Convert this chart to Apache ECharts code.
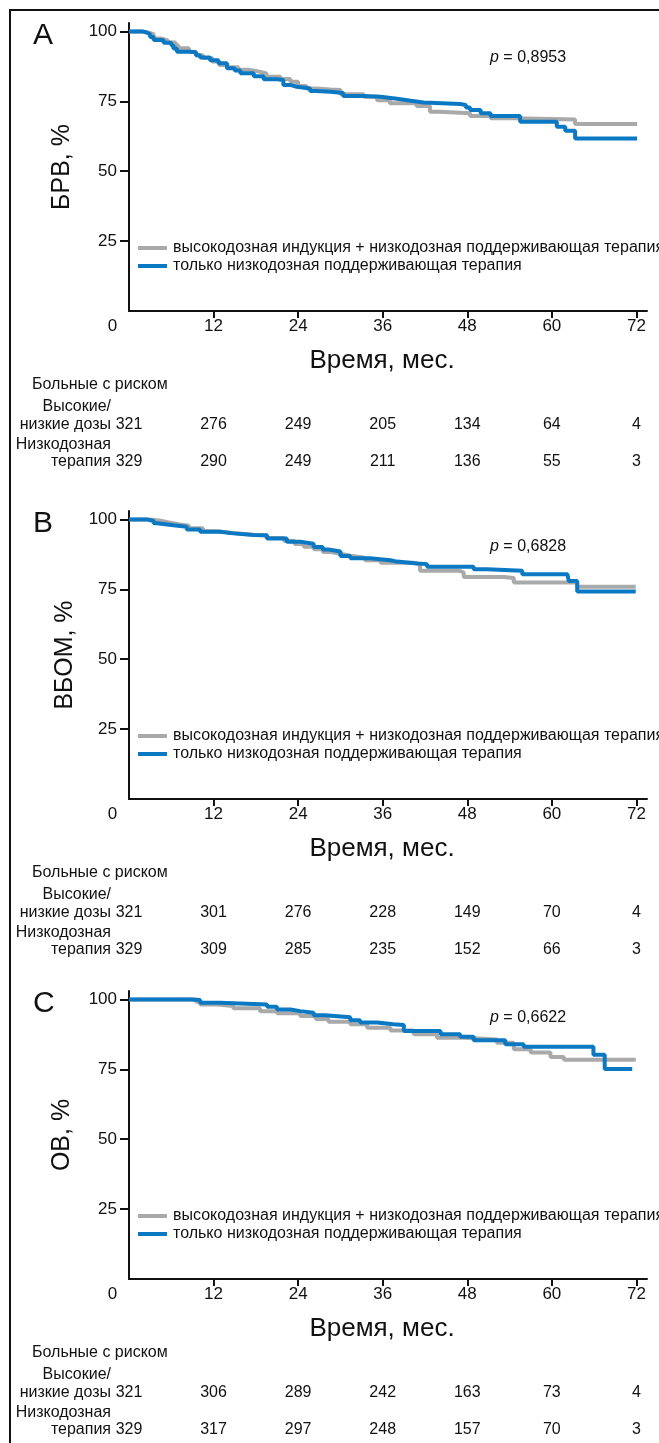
<!DOCTYPE html>
<html><head><meta charset="utf-8">
<script src="https://cdn.jsdelivr.net/npm/echarts@6/dist/echarts.min.js"></script>
<style>html,body{margin:0;padding:0;background:#fff}#c{width:659px;height:1443px}</style>
</head><body><div id="c"></div>
<script>
const FONT = "'Liberation Sans', Arial, Helvetica, sans-serif";
const seriesNames = ['высокодозная индукция + низкодозная поддерживающая терапия', 'только низкодозная поддерживающая терапия'];
const panelLetters = ['A', 'B', 'C'];
const yTitles = ['БРВ, %', 'ВБОМ, %', 'ОВ, %'];
const pValues = ['0,8953', '0,6828', '0,6622'];
const xTicks = [0, 12, 24, 36, 48, 60, 72];
const yTicks = [25, 50, 75, 100];
const xTitle = 'Время, мес.';
const riskTitle = 'Больные с риском';
const riskLabelsHigh = ['Высокие/', 'низкие дозы'];
const riskLabelsLow = ['Низкодозная', 'терапия'];

// numbers at risk (at xTicks)
const riskA_high = [321, 276, 249, 205, 134, 64, 4];
const riskA_low  = [329, 290, 249, 211, 136, 55, 3];
const riskB_high = [321, 301, 276, 228, 149, 70, 4];
const riskB_low  = [329, 309, 285, 235, 152, 66, 3];
const riskC_high = [321, 306, 289, 242, 163, 73, 4];
const riskC_low  = [329, 317, 297, 248, 157, 70, 3];

// Kaplan-Meier curves [month, %]
const curveA_gray = [[0,100],[2.0,99.5],[2.8,99],[3.5,97.5],[4.5,96.8],[5.5,96],[6.6,95],[7.0,94],[8.5,92.6],[9.5,91.5],[10.5,90.5],[11.8,89.2],[12.8,88.0],[14.0,87.2],[15.5,86.3],[17.0,85.6],[18.5,85.0],[19.5,83.8],[21.5,83],[22.9,82],[24.0,80.5],[25.2,79.6],[26.5,79.2],[28.6,79.0],[30,77.5],[33.3,76.6],[35.2,75.4],[37,74.3],[40.8,73.3],[42.7,71.3],[44.1,70.7],[48.4,69.7],[51.3,68.9],[54.6,68.5],[63.3,66.9],[72.1,66.9]];
const curveA_blue = [[0,100],[1.8,99.6],[2.5,99],[3.0,98],[3.5,96.9],[4.9,95.9],[6.0,95],[6.3,93.9],[6.8,92.7],[8.7,92.5],[9.5,91.5],[10.1,90.7],[11.5,89.7],[12.7,88.6],[13.9,86.8],[15.0,86],[15.8,85.0],[17.7,84.0],[19.1,82.9],[21.0,82.6],[21.9,80.8],[23.0,80.2],[23.8,79.6],[25.7,78.7],[26.5,78.4],[28.6,78.0],[30.4,76.9],[33.3,76.6],[35.7,75.9],[38.0,75.2],[40,74.6],[41.8,74.0],[47.0,73.7],[47.8,72.8],[48.4,71.9],[49.9,70.7],[51.3,69.7],[55.5,67.7],[60.7,65.9],[61.9,64.5],[63.3,61.7],[72.1,61.7]];
const curveB_gray = [[0,100],[3,99.6],[4.3,99],[5.5,98.3],[7,97.7],[8.5,96.8],[10.5,95.8],[12.5,95.2],[14.5,94.5],[17.5,94.2],[19.5,93.3],[22,92.3],[23.5,91.2],[24.8,90.2],[26.2,89.3],[27.5,88.3],[28.6,87.7],[30,87.0],[31.4,86.3],[33.5,85.4],[35.7,84.5],[40.4,84.0],[41.3,81.6],[46.9,81.0],[47.5,79.4],[53.2,79.0],[54.6,77.4],[63.6,75.9],[71.9,75.9]];
const curveB_blue = [[0,100],[2.5,99.4],[3.5,98.6],[4.0,97.9],[6.3,97.4],[8.2,96.4],[10.1,95.6],[12.9,95.0],[14.8,94.4],[17.7,94.3],[19.6,93.2],[22.4,92.0],[24.3,91.3],[26.2,90.1],[27.5,89.2],[28.3,88.5],[30,86.9],[31.4,86.1],[34.2,85.4],[37.1,84.9],[38.0,84.2],[40.9,84.0],[42.3,83.1],[48.9,82.2],[50.8,81.6],[55.8,80.4],[62.2,80.2],[62.4,78.0],[63.6,74.2],[71.9,74.2]];
const curveC_gray = [[0,100],[9.5,99.2],[10.1,98.2],[12.5,97.6],[14.8,96.8],[18.6,95.8],[21.0,95.0],[24.3,94.1],[26.5,93.0],[28.3,92.0],[31.4,91.1],[33.8,89.9],[37.1,88.9],[40.4,87.5],[43.7,86.3],[47.5,85.7],[52.2,84.5],[54.6,82.2],[57.0,81.0],[59.8,79.4],[61.7,78.4],[71.9,78.4]];
const curveC_blue = [[0,100],[8.7,99.8],[10.1,98.8],[12.9,98.2],[19.6,97.4],[21.0,96.4],[22.9,95.8],[24.3,95.2],[26.2,94.3],[27.8,93.6],[31.4,92.5],[32.8,91.7],[35.2,91.1],[37.5,90.8],[39.0,88.7],[44.2,87.5],[47.0,86.6],[48.9,85.4],[53.4,84.0],[56.0,83.1],[65.9,80.2],[67.5,75.1],[71.4,75.1]];

const panels = [
  {gray: curveA_gray, blue: curveA_blue, high: riskA_high, low: riskA_low},
  {gray: curveB_gray, blue: curveB_blue, high: riskB_high, low: riskB_low},
  {gray: curveC_gray, blue: curveC_blue, high: riskC_high, low: riskC_low}
];

// layout
const GRID_LEFT = 129, GRID_W = 518, GRID_H = 288;
const tops = [23, 511, 991];
const yNameGaps = [54, 45, 54];
const pOffsets = [35, 36, 27];
const GRAY = '#a9a9a9', BLUE = '#0a78c2', INK = '#111';
const SMALL = 16;

const option = {animation: false, backgroundColor: '#fff', grid: [], xAxis: [], yAxis: [], series: [], legend: [], graphic: []};

panels.forEach((p, i) => {
  const top = tops[i];
  const axisY = top + GRID_H;
  option.grid.push({left: GRID_LEFT, top: top, width: GRID_W, height: GRID_H, containLabel: false});
  const xBase = option.xAxis.length;
  option.xAxis.push({
    type: 'value', gridIndex: i, min: 0, max: 73.5, position: 'bottom',
    axisLine: {show: true, onZero: false, lineStyle: {color: INK, width: 2}},
    axisTick: {show: true, customValues: xTicks.slice(1), length: 7, lineStyle: {color: INK, width: 2}},
    axisLabel: {customValues: xTicks, margin: 7, fontSize: 17, fontFamily: FONT, color: INK,
      formatter: v => v === 0 ? '{z|0}' : String(v),
      rich: {z: {padding: [0, 33, 0, 0], fontSize: 17, fontFamily: FONT, color: INK}}},
    splitLine: {show: false},
    name: xTitle, nameLocation: 'middle', nameGap: 37,
    nameTextStyle: {fontSize: 26, fontFamily: FONT, color: INK, padding: [0, 12, 0, 0]}
  });
  [[p.high, 98], [p.low, 135]].forEach(([arr, off]) => {
    option.xAxis.push({
      type: 'value', gridIndex: i, min: 0, max: 73.5, position: 'bottom', offset: off,
      axisLine: {show: false}, axisTick: {show: false}, splitLine: {show: false},
      axisLabel: {customValues: xTicks, margin: 8, fontSize: SMALL, fontFamily: FONT, color: INK,
        formatter: v => String(arr[xTicks.indexOf(v)])}
    });
  });
  option.yAxis.push({
    type: 'value', gridIndex: i, min: 0, max: 103,
    axisLine: {show: true, lineStyle: {color: INK, width: 2}},
    axisTick: {show: true, customValues: yTicks, length: 9, lineStyle: {color: INK, width: 2}},
    axisLabel: {customValues: yTicks, margin: 12, fontSize: 17, fontFamily: FONT, color: INK},
    splitLine: {show: false},
    name: yTitles[i], nameLocation: 'middle', nameGap: yNameGaps[i],
    nameTextStyle: {fontSize: 25, fontFamily: FONT, color: INK}
  });
  option.series.push({
    name: seriesNames[0], type: 'line', xAxisIndex: xBase, yAxisIndex: i, step: 'end',
    symbol: 'none', data: p.gray, lineStyle: {color: GRAY, width: 4}, itemStyle: {color: GRAY}, z: 2
  });
  option.series.push({
    name: seriesNames[1], type: 'line', xAxisIndex: xBase, yAxisIndex: i, step: 'end',
    symbol: 'none', data: p.blue, lineStyle: {color: BLUE, width: 4}, itemStyle: {color: BLUE}, z: 3
  });
  option.legend.push({
    orient: 'vertical', left: 138, top: top + 217, padding: 0, itemGap: 2,
    itemWidth: 29, itemHeight: 4, icon: 'rect', selectedMode: false,
    data: seriesNames, textStyle: {fontSize: SMALL, fontFamily: FONT, color: INK, padding: [0, 0, 0, 1]}
  });
  const txt = (x, y, text, size, align, extra) => ({
    type: 'text', x: x, y: y, silent: true,
    style: Object.assign({text: text, fontSize: size, fontFamily: FONT, fill: INK, align: align || 'left', verticalAlign: 'middle'}, extra || {})
  });
  option.graphic.push(txt(33, top + 13, panelLetters[i], 30));
  option.graphic.push(txt(490, top + pOffsets[i], '{i|p} = ' + pValues[i], 16, 'left',
    {rich: {i: {fontStyle: 'italic', fontSize: 16, fontFamily: FONT, fill: INK}}}));
  option.graphic.push(txt(32, axisY + 74, riskTitle, SMALL));
  option.graphic.push(txt(111, axisY + 96, riskLabelsHigh[0], SMALL, 'right'));
  option.graphic.push(txt(111, axisY + 114, riskLabelsHigh[1], SMALL, 'right'));
  option.graphic.push(txt(111, axisY + 134, riskLabelsLow[0], SMALL, 'right'));
  option.graphic.push(txt(111, axisY + 151, riskLabelsLow[1], SMALL, 'right'));
});

option.graphic.push({type: 'line', silent: true, shape: {x1: 10, y1: 9, x2: 10, y2: 1443}, style: {stroke: INK, lineWidth: 2}});
option.graphic.push({type: 'line', silent: true, shape: {x1: 9, y1: 10, x2: 659, y2: 10}, style: {stroke: INK, lineWidth: 2}});

const chart = echarts.init(document.getElementById('c'), null, {renderer: 'canvas'});
chart.setOption(option);
</script>
</body></html>
